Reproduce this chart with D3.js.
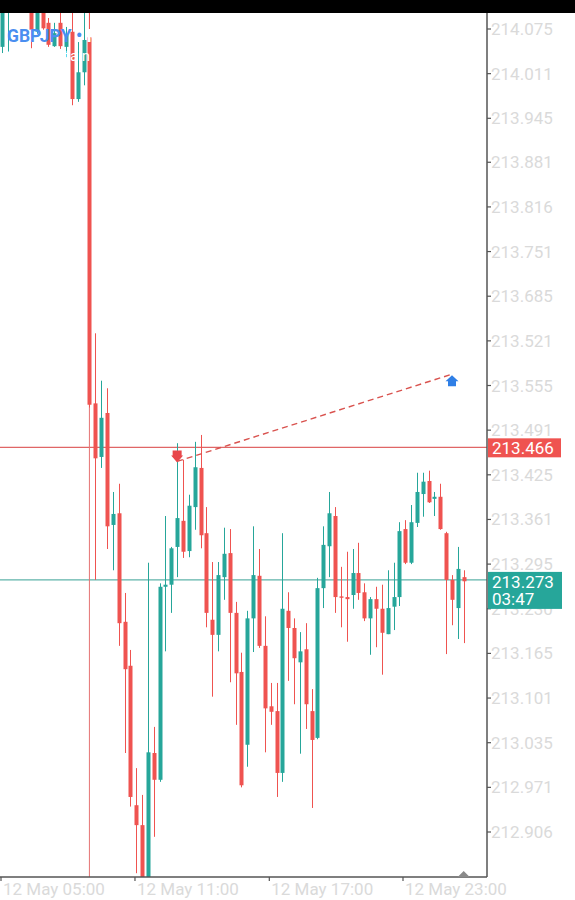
<!DOCTYPE html>
<html>
<head>
<meta charset="utf-8">
<script src="https://cdn.jsdelivr.net/npm/d3@7/dist/d3.min.js"></script>
<style>
  html, body { margin: 0; padding: 0; background: #fff; }
  svg { display: block; font-family: Roboto, "Noto Sans", sans-serif; }
</style>
</head>
<body>
<svg id="chart" width="575" height="900"></svg>
<script>
// ---- DATA ----
const opens = [214.049,214.106,214.110,214.122,214.111,214.117,214.071,214.110,214.084,214.050,
214.084,214.049,214.071,213.973,214.012,214.063,213.530,213.452,213.516,213.353,
213.370,213.212,213.148,212.945,212.916,212.807,213.021,212.982,213.263,213.266,
213.321,213.359,213.315,213.379,213.436,213.341,213.215,213.193,213.277,213.312,
213.225,213.139,213.033,213.217,213.279,213.177,213.089,213.082,212.992,213.228,
213.203,213.153,213.172,213.082,213.043,213.261,213.322,213.366,213.249,213.248,
213.251,213.283,213.255,213.217,213.245,213.231,213.194,213.234,213.248,213.347,
213.298,213.356,213.398,213.417,213.391,213.394,213.341,213.273,213.232,213.277];
const highs = [214.117,214.120,214.129,214.132,214.126,214.125,214.117,214.117,214.091,214.084,
214.103,214.078,214.103,214.056,214.110,214.110,213.632,213.563,213.552,213.401,
213.413,213.254,213.171,212.999,212.960,213.298,213.059,213.268,213.366,213.321,
213.472,213.448,213.397,213.474,213.484,213.379,213.299,213.299,213.349,213.347,
213.241,213.167,213.228,213.351,213.318,213.220,213.123,213.123,213.341,213.255,
213.217,213.197,213.210,213.114,213.276,213.351,213.401,213.379,213.292,213.314,
213.318,213.327,213.268,213.248,213.263,213.266,213.287,213.298,213.357,213.360,
213.382,213.429,213.429,213.432,213.401,213.413,213.343,213.280,213.321,213.287];
const lows = [214.040,214.042,214.104,214.106,214.103,214.047,214.068,214.074,214.049,214.049,
214.046,214.034,213.964,213.969,213.993,213.524,213.273,213.436,213.318,213.287,
213.177,213.021,212.943,212.846,212.792,212.792,212.899,212.979,213.169,213.225,
213.277,213.305,213.306,213.346,213.319,213.204,213.103,213.169,213.244,213.124,
213.062,212.971,213.001,213.168,213.174,213.022,213.062,212.957,212.979,213.126,
213.092,213.020,213.056,212.941,213.041,213.232,213.277,213.225,213.204,213.183,
213.231,213.244,213.213,213.164,213.175,213.135,213.194,213.200,213.235,213.296,
213.296,213.350,213.365,213.385,213.366,213.346,213.165,213.207,213.187,213.181];
const closes = [214.110,214.114,214.122,214.111,214.120,214.074,214.110,214.076,214.052,214.069,
214.050,214.066,213.973,214.012,214.059,213.528,213.450,213.509,213.351,213.369,
213.210,213.143,212.957,212.916,212.807,213.022,212.982,213.263,213.266,213.319,
213.363,213.314,213.381,213.437,213.338,213.225,213.193,213.280,213.311,213.225,
213.137,212.974,213.217,213.280,213.177,213.086,213.081,212.992,213.231,213.203,
213.159,213.169,213.092,213.040,213.261,213.324,213.370,213.248,213.247,213.245,
213.283,213.254,213.217,213.245,213.231,213.196,213.232,213.248,213.344,213.298,
213.357,213.401,213.416,213.386,213.394,213.347,213.273,213.244,213.289,213.271];

const priceTicks = [214.075,214.010,213.945,213.881,213.816,213.751,213.686,213.621,213.556,213.491,
213.426,213.361,213.296,213.231,213.166,213.101,213.036,212.971,212.906];
const priceTickLabels = ["214.075","214.011","213.945","213.881","213.816","213.751","213.685","213.521","213.555","213.491",
"213.425","213.361","213.295","213.230","213.165","213.101","213.035","212.971","212.906"];

const timeTickBars = [-0.12, 22.79, 45.76, 68.62];
const timeTickLabels = ["12 May 05:00","12 May 11:00","12 May 17:00","12 May 23:00"];

const bidPrice = 213.466;
const lastPrice = 213.273;
const countdown = "03:47";
const vlineBar = 15;
const sellSignal = {bar: 30, price: 213.444};
const buySignal = {bar: 77, price: 213.571};
const symbol = "GBPJPY";

// ---- LAYOUT ----
const W = 575, H = 900;
const plotLeft = 0, plotRight = 487, plotTop = 13, plotBottom = 877;
const RED = "#ef5350", GREEN = "#26a69a";

const svg = d3.select("#chart");
const x = d3.scaleLinear().domain([0, 79]).range([1.7, 463.7]);
const y = d3.scaleLinear().domain([214.075, 212.906]).range([29, 832]);

const candles = opens.map((o, i) => ({i, o, h: highs[i], l: lows[i], c: closes[i]}));

svg.append("defs").append("clipPath").attr("id", "plotclip")
  .append("rect").attr("x", plotLeft).attr("y", plotTop)
  .attr("width", plotRight - plotLeft).attr("height", plotBottom - plotTop);

const plot = svg.append("g").attr("clip-path", "url(#plotclip)");

// horizontal price lines
plot.append("line").attr("x1", plotLeft).attr("x2", plotRight)
  .attr("y1", y(bidPrice)).attr("y2", y(bidPrice))
  .attr("stroke", "#e06666").attr("stroke-width", 1.1);
plot.append("line").attr("x1", plotLeft).attr("x2", plotRight)
  .attr("y1", y(lastPrice)).attr("y2", y(lastPrice))
  .attr("stroke", "#5fb3aa").attr("stroke-width", 1.3);

// vertical line
plot.append("line").attr("x1", x(vlineBar)).attr("x2", x(vlineBar))
  .attr("y1", plotTop).attr("y2", plotBottom)
  .attr("stroke", "#e57373").attr("stroke-width", 1);

// candles
const cg = plot.append("g");
cg.selectAll("line.wick").data(candles).join("line")
  .attr("class", "wick")
  .attr("x1", d => Math.round(x(d.i)) + 0.5).attr("x2", d => Math.round(x(d.i)) + 0.5)
  .attr("y1", d => y(d.h)).attr("y2", d => y(d.l))
  .attr("stroke", d => d.c >= d.o ? GREEN : RED).attr("stroke-width", 1);
cg.selectAll("rect.body").data(candles).join("rect")
  .attr("class", "body")
  .attr("x", d => Math.round(x(d.i)) + 0.5 - 2)
  .attr("width", 4)
  .attr("y", d => y(Math.max(d.o, d.c)))
  .attr("height", d => Math.max(1.2, Math.abs(y(d.o) - y(d.c))))
  .attr("fill", d => d.c >= d.o ? GREEN : RED);

// dashed signal line
plot.append("line")
  .attr("x1", x(sellSignal.bar)).attr("y1", y(sellSignal.price) - 1)
  .attr("x2", x(buySignal.bar)).attr("y2", y(buySignal.price) - 1)
  .attr("stroke", "#d9534f").attr("stroke-width", 1.4)
  .attr("stroke-dasharray", "6,4");

// sell arrow (down)
{
  const ax = x(sellSignal.bar), ay = y(sellSignal.price);
  plot.append("path")
    .attr("d", `M${ax-4.5},${ay-12} L${ax+4.5},${ay-12} L${ax+4.5},${ay-7} L${ax+6},${ay-7} L${ax},${ay} L${ax-6},${ay-7} L${ax-4.5},${ay-7} Z`)
    .attr("fill", "#e8464a");
}
// buy arrow (up)
{
  const ax = x(buySignal.bar), ay = y(buySignal.price);
  plot.append("path")
    .attr("d", `M${ax},${ay} L${ax+6.5},${ay+6} L${ax+4},${ay+6} L${ax+4},${ay+11} L${ax-4},${ay+11} L${ax-4},${ay+6} L${ax-6.5},${ay+6} Z`)
    .attr("fill", "#2f7fe6");
}

// title text
const title = svg.append("text").attr("x", 7).attr("y", 42)
  .attr("font-size", 17.5).attr("font-weight", "bold");
title.append("tspan").attr("fill", "#4a8ef0").text(symbol + " \u2022 ");
title.append("tspan").attr("fill", "#ffffff").text("M15");
svg.append("text").attr("x", 7).attr("y", 61).attr("font-size", 15)
  .attr("fill", "#ffffff").text("Great Britain Pound vs Japanese Yen");

// axes lines
svg.append("line").attr("x1", plotRight).attr("x2", plotRight)
  .attr("y1", plotTop).attr("y2", plotBottom)
  .attr("stroke", "#555").attr("stroke-width", 1.5);
svg.append("line").attr("x1", 0).attr("x2", plotRight)
  .attr("y1", plotBottom).attr("y2", plotBottom)
  .attr("stroke", "#555").attr("stroke-width", 1.5);

// right axis ticks & labels
const yAxis = svg.append("g");
yAxis.selectAll("line").data(priceTicks).join("line")
  .attr("x1", plotRight).attr("x2", plotRight + 4)
  .attr("y1", d => y(d)).attr("y2", d => y(d))
  .attr("stroke", "#555").attr("stroke-width", 1.2);
yAxis.selectAll("text").data(priceTicks).join("text")
  .attr("x", plotRight + 4).attr("y", d => y(d) + 6)
  .attr("font-size", 17).attr("fill", "#dadada")
  .text((d, i) => priceTickLabels[i]);

// bottom axis ticks & labels
const xAxis = svg.append("g");
xAxis.selectAll("line").data(timeTickBars).join("line")
  .attr("x1", d => x(d)).attr("x2", d => x(d))
  .attr("y1", plotBottom).attr("y2", plotBottom + 4)
  .attr("stroke", "#555").attr("stroke-width", 1.2);
xAxis.selectAll("text").data(timeTickBars).join("text")
  .attr("x", d => x(d) + 2).attr("y", plotBottom + 18)
  .attr("font-size", 17).attr("fill", "#dadada")
  .text((d, i) => timeTickLabels[i]);

// price boxes
svg.append("rect").attr("x", plotRight + 1).attr("y", y(bidPrice) - 9)
  .attr("width", 73).attr("height", 19).attr("fill", RED);
svg.append("text").attr("x", plotRight + 5).attr("y", y(bidPrice) + 7)
  .attr("font-size", 17).attr("fill", "#fff").text(bidPrice.toFixed(3));

svg.append("rect").attr("x", plotRight + 1).attr("y", y(lastPrice) - 8)
  .attr("width", 74).attr("height", 37).attr("fill", GREEN);
svg.append("text").attr("x", plotRight + 5).attr("y", y(lastPrice) + 8)
  .attr("font-size", 17).attr("fill", "#fff").text(lastPrice.toFixed(3));
svg.append("text").attr("x", plotRight + 5).attr("y", y(lastPrice) + 25)
  .attr("font-size", 17).attr("fill", "#fff").text(countdown);

// shift marker
svg.append("path")
  .attr("d", `M${x(79)-6},${plotBottom} L${x(79)},${plotBottom-6} L${x(79)+6},${plotBottom} Z`)
  .attr("fill", "#8a8a8a");

// top status bar
svg.append("rect").attr("x", 0).attr("y", 0).attr("width", W).attr("height", plotTop).attr("fill", "#000");
</script>
</body>
</html>
